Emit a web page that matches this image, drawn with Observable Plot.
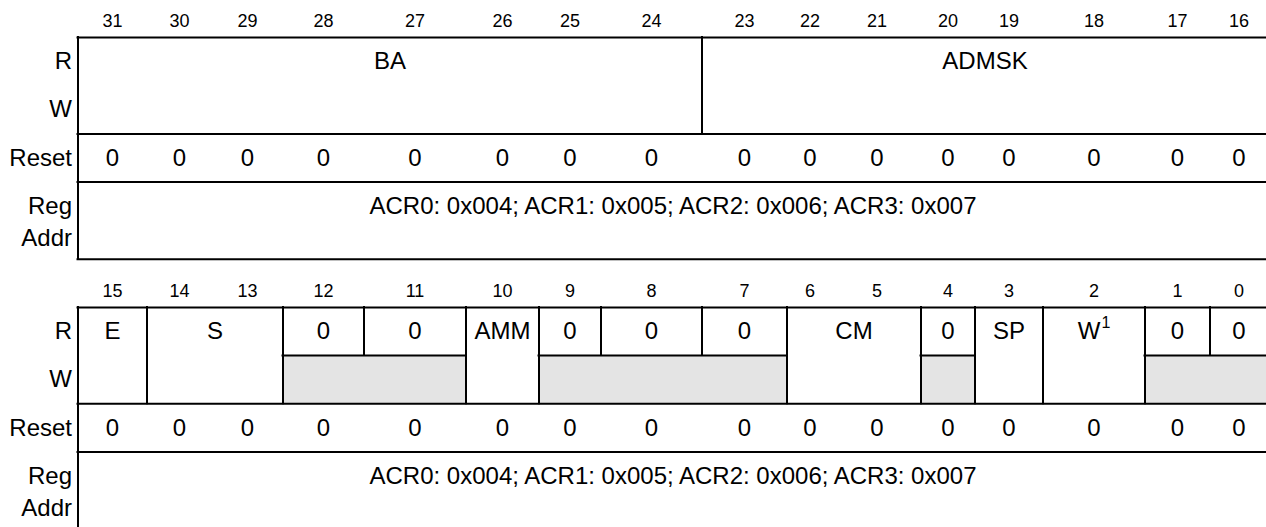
<!DOCTYPE html>
<html>
<head>
<meta charset="utf-8">
<script src="https://cdn.jsdelivr.net/npm/d3@7"></script>
<script src="https://cdn.jsdelivr.net/npm/@observablehq/plot@0.6"></script>
<style>
  html, body { margin: 0; padding: 0; background: #fff; }
  #chart svg { display: block; }
</style>
</head>
<body>
<div id="chart"></div>
<script>
// ---- data ----
const rowLabels = ["R", "W", "Reset", "Reg", "Addr"];
const upperBits = [31, 30, 29, 28, 27, 26, 25, 24, 23, 22, 21, 20, 19, 18, 17, 16];
const lowerBits = [15, 14, 13, 12, 11, 10, 9, 8, 7, 6, 5, 4, 3, 2, 1, 0];
// relative widths of the 16 bit columns, left to right (same in both halves)
const columnWidths = [69, 65, 71, 81, 102, 73, 62, 101, 85, 46, 88, 54, 68, 102, 65, 58];

const upperFieldNames = ["BA", "ADMSK"];
const upperFieldMsb = [31, 23];
const upperFieldLsb = [24, 16];
const upperFieldAccess = ["rw", "rw"];
const upperFieldNotes = ["", ""];
const upperReset = [0, 0, 0, 0, 0, 0, 0, 0, 0, 0, 0, 0, 0, 0, 0, 0];

const lowerFieldNames = ["E", "S", "0", "0", "AMM", "0", "0", "0", "CM", "0", "SP", "W", "0", "0"];
const lowerFieldMsb = [15, 14, 12, 11, 10, 9, 8, 7, 6, 4, 3, 2, 1, 0];
const lowerFieldLsb = [15, 13, 12, 11, 10, 9, 8, 7, 5, 4, 3, 2, 1, 0];
const lowerFieldAccess = ["rw", "rw", "r", "r", "rw", "r", "r", "r", "rw", "r", "rw", "rw", "r", "r"];
const lowerFieldNotes = ["", "", "", "", "", "", "", "", "", "", "", "1", "", ""];
const lowerReset = [0, 0, 0, 0, 0, 0, 0, 0, 0, 0, 0, 0, 0, 0, 0, 0];

const regAddrText = "ACR0: 0x004; ACR1: 0x005; ACR2: 0x006; ACR3: 0x007";

// ---- derived tables ----
const colLeft = [];
{ let acc = 0; for (const w of columnWidths) { colLeft.push(acc); acc += w; } }
const total = d3.sum(columnWidths);
const colRight = colLeft.map((l, i) => l + columnWidths[i]);

const halves = [
  {off: 0, bits: upperBits, names: upperFieldNames, msb: upperFieldMsb, lsb: upperFieldLsb,
   access: upperFieldAccess, notes: upperFieldNotes, reset: upperReset},
  {off: 5.6, bits: lowerBits, names: lowerFieldNames, msb: lowerFieldMsb, lsb: lowerFieldLsb,
   access: lowerFieldAccess, notes: lowerFieldNotes, reset: lowerReset}
];
const REG_H = 1.6;

const bitLabels = [], resetLabels = [], rowText = [], fields = [], hRules = [], vRules = [], grays = [], regText = [];
for (const h of halves) {
  const top = h.bits[0];
  const idx = b => top - b;
  h.bits.forEach((b, i) => {
    const cx = (colLeft[i] + colRight[i]) / 2;
    bitLabels.push({x: cx, y: h.off - 0.34, t: String(b)});
    resetLabels.push({x: cx, y: h.off + 2.5, t: String(h.reset[i])});
  });
  rowText.push({y: h.off + 0.5, t: rowLabels[0]});
  rowText.push({y: h.off + 1.5, t: rowLabels[1]});
  rowText.push({y: h.off + 2.5, t: rowLabels[2]});
  rowText.push({y: h.off + 3.5, t: rowLabels[3]});
  rowText.push({y: h.off + 4.17, t: rowLabels[4]});
  regText.push({x: total / 2, y: h.off + 3.5, t: regAddrText});
  // outer lines
  for (const y of [0, 2, 3, 3 + REG_H]) hRules.push({y: h.off + y, x1: 0, x2: total});
  vRules.push({x: 0, y1: h.off, y2: h.off + 3 + REG_H});
  vRules.push({x: total, y1: h.off, y2: h.off + 3 + REG_H});
  // fields
  let run = null;
  h.names.forEach((n, k) => {
    const x1 = colLeft[idx(h.msb[k])], x2 = colRight[idx(h.lsb[k])];
    fields.push({x: (x1 + x2) / 2, y: h.off + 0.5, t: n, note: h.notes[k]});
    if (h.access[k] === "r") {
      if (run) run.x2 = x2;
      else { run = {x1, x2, y1: h.off + 1, y2: h.off + 2}; grays.push(run); }
    } else run = null;
    if (k > 0) {
      const bothRO = h.access[k] === "r" && h.access[k - 1] === "r";
      vRules.push({x: x1, y1: h.off, y2: h.off + (bothRO ? 1 : 2)});
    }
  });
}
for (const g of grays) hRules.push({y: g.y1, x1: g.x1, x2: g.x2});
const notes = fields.filter(d => d.note);

const FONT = "'Liberation Sans', Arial, Helvetica, sans-serif";
const chart = Plot.plot({
  width: 1266,
  height: 527,
  margin: 0,
  style: {fontFamily: FONT, background: "#fff", color: "#000"},
  x: {domain: [0, total], range: [77.5, 1267.5], axis: null},
  y: {domain: [0, 10], range: [37, 519], axis: null},
  marks: [
    Plot.rect(grays, {x1: "x1", x2: "x2", y1: "y1", y2: "y2", fill: "#e4e4e4"}),
    Plot.ruleY(hRules, {y: "y", x1: "x1", x2: "x2", stroke: "#000", strokeWidth: 2, strokeLinecap: "square"}),
    Plot.ruleX(vRules, {x: "x", y1: "y1", y2: "y2", stroke: "#000", strokeWidth: 2, strokeLinecap: "square"}),
    Plot.text(bitLabels, {x: "x", y: "y", text: "t", fontSize: 18, fill: "#000"}),
    Plot.text(resetLabels, {x: "x", y: "y", text: "t", fontSize: 24, fill: "#000"}),
    Plot.text(fields.filter(d => !d.note), {x: "x", y: "y", text: "t", fontSize: 24, fill: "#000"}),
    Plot.text(notes, {x: "x", y: "y", text: "t", fontSize: 24, fill: "#000", dx: -5}),
    Plot.text(notes, {x: "x", y: "y", text: "note", fontSize: 16, fill: "#000", dx: 12, dy: -9}),
    Plot.text(regText, {x: "x", y: "y", text: "t", fontSize: 24, fill: "#000"}),
    Plot.text(rowText, {x: 0, y: "y", text: "t", fontSize: 24, fill: "#000", textAnchor: "end", dx: -6})
  ]
});
document.getElementById("chart").appendChild(chart);
</script>
</body>
</html>
